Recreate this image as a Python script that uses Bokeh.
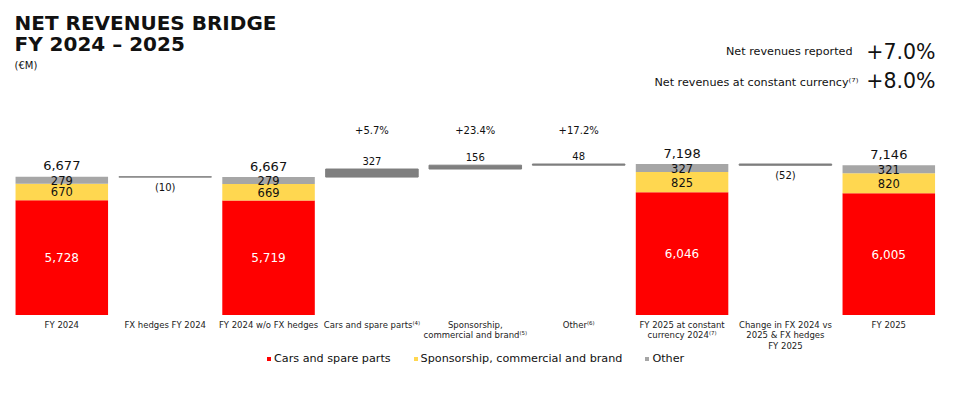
from bokeh.plotting import figure
from bokeh.models import Range1d, ColumnDataSource, Legend, LegendItem
from bokeh.core.properties import value
from bokeh.embed import file_html
from bokeh.resources import INLINE

# ---------------- data ----------------
categories = [
    "FY 2024",
    "FX hedges FY 2024",
    "FY 2024 w/o FX hedges",
    "Cars and spare parts\u207d\u2074\u207e",
    "Sponsorship,\ncommercial and brand\u207d\u2075\u207e",
    "Other\u207d\u2076\u207e",
    "FY 2025 at constant\ncurrency 2024\u207d\u2077\u207e",
    "Change in FX 2024 vs\n2025 & FX hedges\nFY 2025",
    "FY 2025",
]
total_idx = [0, 2, 6, 8]
cars = [5728, 5719, 6046, 6005]
sponsorship = [670, 669, 825, 820]
other = [279, 279, 327, 321]
totals = [6677, 6667, 7198, 7146]

bridge_idx = [1, 3, 4, 5, 7]
bridge_delta = [-10, 327, 156, 48, -52]
bridge_pct_idx = [3, 4, 5]
bridge_pct = ["+5.7%", "+23.4%", "+17.2%"]

series_names = ["Cars and spare parts", "Sponsorship, commercial and brand", "Other"]
headline_labels = ["Net revenues reported", "Net revenues at constant currency\u207d\u2077\u207e"]
headline_values = ["+7.0%", "+8.0%"]

# ---------------- style / layout ----------------
FONT = "DejaVu Sans"
RED = "#FF0000"
YELLOW = "#FFD750"
GREY = "#A6A6A6"
BRIDGE = "#7F7F7F"
W, H = 952, 394
SX = 103.375          # px per category slot
XC0_IMG = 61.3        # image x of first slot centre
S = 0.0246            # px per EUR m
BASE_IMG = 314.5      # image y of axis floor
FLOOR = 1060          # value at which the (truncated) axis starts


def X(img_x):
    return 0.5 + (img_x - XC0_IMG) / SX


def Y(img_y):
    return FLOOR + (BASE_IMG - img_y) / S


p = figure(width=W, height=H, output_backend="svg", toolbar_location=None,
           x_range=Range1d(X(0), X(W)), y_range=Range1d(Y(H), Y(0)),
           x_axis_location=None, y_axis_location=None, min_border=0)
p.grid.visible = False
p.outline_line_color = None
p.background_fill_color = "white"

# ---------------- stacked total bars ----------------
xs = [i + 0.5 for i in total_idx]
cs = [c + s for c, s in zip(cars, sponsorship)]
src = ColumnDataSource(dict(x=xs, floor=[FLOOR] * len(xs), cars=cars, cs=cs, tot=totals,
                            cars_mid=[(FLOOR + c) / 2 for c in cars],
                            sp_mid=[(c + t) / 2 for c, t in zip(cars, cs)],
                            ot_mid=[(a + t) / 2 for a, t in zip(cs, totals)],
                            cars_t=[f"{v:,}" for v in cars],
                            sp_t=[f"{v:,}" for v in sponsorship],
                            ot_t=[f"{v:,}" for v in other],
                            tot_t=[f"{v:,}" for v in totals]))
r_red = p.vbar(x="x", bottom="floor", top="cars", width=0.895, source=src,
               fill_color=RED, line_color=None)
r_yel = p.vbar(x="x", bottom="cars", top="cs", width=0.895, source=src,
               fill_color=YELLOW, line_color=None)
r_gry = p.vbar(x="x", bottom="cs", top="tot", width=0.895, source=src,
               fill_color=GREY, line_color=None)

p.text(x="x", y="cars_mid", text="cars_t", source=src, text_font=value(FONT),
       text_font_size="12px", text_align="center", text_baseline="middle", text_color="white")
p.text(x="x", y="sp_mid", text="sp_t", source=src, text_font=value(FONT),
       text_font_size="11.5px", text_align="center", text_baseline="middle", text_color="#111111")
p.text(x="x", y="ot_mid", text="ot_t", source=src, text_font=value(FONT),
       text_font_size="11.5px", text_align="center", text_baseline="middle", text_color="#111111")
p.text(x="x", y="tot", text="tot_t", source=src, text_font=value(FONT),
       text_font_size="13px", text_align="center", text_baseline="middle",
       y_offset=-11, text_color="#111111")

# ---------------- bridge bars ----------------
level = totals[0]
starts, ends = [], []
for d in bridge_delta:
    starts.append(level)
    level = level + d
    ends.append(level)
bsrc = ColumnDataSource(dict(
    x=[i + 0.5 for i in bridge_idx],
    top=[max(a, b) for a, b in zip(starts, ends)],
    bottom=[min(a, b) for a, b in zip(starts, ends)],
))
p.vbar(x="x", bottom="bottom", top="top", width=0.895, source=bsrc,
       fill_color=BRIDGE, line_color=BRIDGE, line_width=1)

pos = [(i + 0.5, max(a, b), f"{d:,}") for i, a, b, d in zip(bridge_idx, starts, ends, bridge_delta) if d >= 0]
neg = [(i + 0.5, min(a, b), f"({abs(d):,})") for i, a, b, d in zip(bridge_idx, starts, ends, bridge_delta) if d < 0]
p.text(x=[v[0] for v in pos], y=[v[1] for v in pos], text=[v[2] for v in pos],
       text_font=value(FONT), text_font_size="10px", text_align="center",
       text_baseline="middle", y_offset=-8.5, text_color="#111111")
p.text(x=[v[0] for v in neg], y=[v[1] for v in neg], text=[v[2] for v in neg],
       text_font=value(FONT), text_font_size="10px", text_align="center",
       text_baseline="middle", y_offset=10.5, text_color="#111111")
p.text(x=[i + 0.5 for i in bridge_pct_idx], y=[Y(130)] * len(bridge_pct_idx), text=bridge_pct,
       text_font=value(FONT), text_font_size="10px", text_align="center",
       text_baseline="middle", text_color="#111111")

# ---------------- category labels ----------------
p.text(x=[i + 0.5 for i in range(len(categories))], y=[FLOOR] * len(categories), text=categories,
       text_font=value(FONT), text_font_size="8.5px", text_align="center",
       text_baseline="top", y_offset=4.5, text_line_height=1.05, text_color="#222222")

# ---------------- titles ----------------
p.text(x=[X(14), X(14)], y=[Y(22.5), Y(43.5)], text=["NET REVENUES BRIDGE", "FY 2024 \u2013 2025"],
       text_font=value(FONT), text_font_size="20px", text_font_style="bold",
       text_align="left", text_baseline="middle", text_color="#111111")
p.text(x=[X(14)], y=[Y(64.5)], text=["(\u20acM)"], text_font=value(FONT), text_font_size="10px",
       text_align="left", text_baseline="middle", text_color="#111111")

p.text(x=[X(852), X(858)], y=[Y(50.5), Y(81.5)], text=headline_labels,
       text_font=value(FONT), text_font_size="11.2px", text_align="right",
       text_baseline="middle", text_color="#111111")
p.text(x=[X(935), X(935)], y=[Y(51), Y(80.5)], text=headline_values,
       text_font=value(FONT), text_font_size="20.5px", text_align="right",
       text_baseline="middle", text_color="#111111")

# ---------------- legend ----------------
legend = Legend(items=[LegendItem(label=series_names[0], renderers=[r_red]),
                       LegendItem(label=series_names[1], renderers=[r_yel]),
                       LegendItem(label=series_names[2], renderers=[r_gry])],
                orientation="horizontal", location=(266, H - 364.5),
                glyph_width=5, glyph_height=5, label_standoff=3, spacing=22,
                padding=0, margin=0, label_height=12,
                label_text_font=FONT, label_text_font_size="11.2px",
                label_text_color="#111111",
                border_line_color=None, background_fill_alpha=0)
p.add_layout(legend, "center")

open("out.html", "w").write(file_html(p, INLINE))
